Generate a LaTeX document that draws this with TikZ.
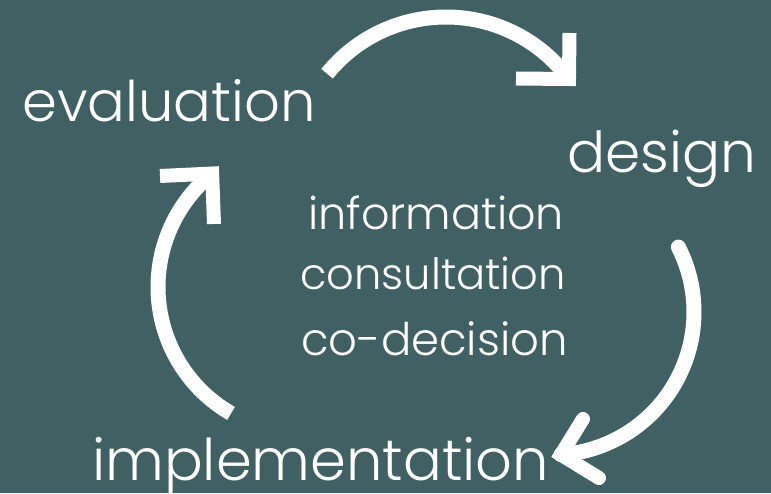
\documentclass[tikz,border=0pt]{standalone}
\usepackage{fontspec}
\setmainfont{Poppins Light}
\definecolor{bg}{RGB}{64,96,99}
\begin{document}
\begin{tikzpicture}[x=1pt,y=1pt,
  arcline/.style={draw=white, line width=15pt},
  headline/.style={draw=white, line width=14pt, line join=miter},
  lbl/.style={text=white, inner sep=0pt, anchor=base west}]
\fill[bg] (0,0) rectangle (771,493);
\useasboundingbox (0,0) rectangle (771,493);
% labels
\node[lbl,font=\fontsize{56}{66}\selectfont] (eval) at (22,371) {evaluation};
\node[lbl,font=\fontsize{56.5}{66}\selectfont] (design) at (567,320) {design};
\node[lbl,font=\fontsize{57.5}{66}\selectfont] (impl) at (92,13) {implementation};
\node[lbl,font=\fontsize{44.5}{50}\selectfont] (info) at (308,263) {information};
\node[lbl,font=\fontsize{43.2}{50}\selectfont] (cons) at (300,203) {consultation};
\node[lbl,font=\fontsize{45}{50}\selectfont] (codec) at (301,138) {co-decision};
% centres
\coordinate (tc) at (446,323);
\coordinate (rc) at (551,181);
\coordinate (lc) at (304,206);
% top arrow
\draw[arcline] (tc) ++(141:153) arc[start angle=141, end angle=36.5, radius=153] coordinate (ttip);
\coordinate (ta1) at (569.5,460);
\coordinate (ta2) at (516,414.5);
\draw[headline] (ta1) -- (ttip) -- (ta2);
% right arrow
\draw[arcline, line cap=round] (rc) ++(27:143) arc[start angle=27, end angle=-86, radius=143] coordinate (rtip);
\coordinate (ra1) at (583,74);
\coordinate (ra2) at (599,15);
\draw[headline, line cap=round] (ra1) -- (rtip) -- (ra2);
% left arrow
\draw[arcline] (lc) ++(240:146) arc[start angle=240, end angle=129, radius=146] coordinate (ltip);
\coordinate (la1) at (160,317);
\coordinate (la2) at (214,269);
\draw[headline] (la1) -- (ltip) -- (la2);
\end{tikzpicture}
\end{document}
